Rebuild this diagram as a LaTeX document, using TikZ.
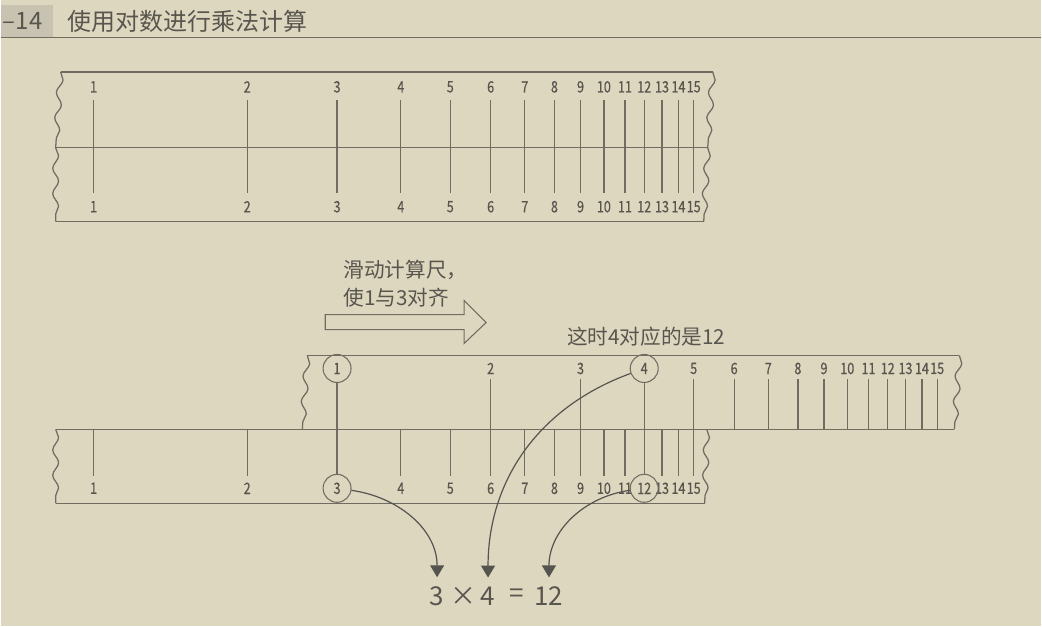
\documentclass[tikz,border=0pt]{standalone}
\usepackage{fontspec}
\setmainfont{Noto Sans CJK SC}
\newfontfamily\numfont[FakeStretch=0.8, FakeBold=0.6]{Noto Sans CJK SC}
\usetikzlibrary{arrows.meta,decorations.pathmorphing}
\definecolor{paper}{RGB}{222,215,192}
\definecolor{boxgray}{RGB}{200,194,176}
\definecolor{linegray}{RGB}{112,108,98}
\definecolor{textgray}{RGB}{88,85,78}
\definecolor{arrowgray}{RGB}{85,84,78}
\tikzset{
  rline/.style={draw=linegray, line width=0.95pt},
  wavy/.style={rline, decorate, decoration={snake, amplitude=2.2pt, segment length=19pt}},
  num/.style={text=textgray, font=\numfont\fontsize{11.8}{13}\selectfont, inner sep=1pt},
  ring/.style={num, circle, draw=linegray, line width=0.8pt, minimum size=21pt, inner sep=0pt},
  zh/.style={text=textgray, font=\fontsize{15.5}{21}\selectfont, inner sep=0pt},
  eqn/.style={text=textgray, font=\fontsize{19.5}{22}\selectfont, inner sep=0pt, outer sep=7pt},
  curvearrow/.style={draw=arrowgray, line width=0.9pt, -{Triangle[width=10.5pt,length=9pt]}}
}
\begin{document}
\begin{tikzpicture}[x=0.75pt, y=-0.75pt]
\fill[paper] (0,0) rectangle (1042,627);

% header
\fill[boxgray] (0,5) rectangle (52,37);
\node[text=textgray, font=\fontsize{18}{20}\selectfont, inner sep=0pt] (H) at (22,21) {–14};
\node[text=textgray, font=\fontsize{18}{20}\selectfont, inner sep=0pt, anchor=west] (T) at (67,21) {使用对数进行乘法计算};
\draw[linegray, line width=1.1pt] (0,37.5) -- (1042,37.5);

% rule before sliding
\draw[rline] (60,72) -- (713,72);
\draw[rline] (55,148) -- (708,148);
\draw[rline] (55,222) -- (704,222);
\draw[wavy] (60,72) -- (55,148);
\draw[wavy] (55,148) -- (55,222);
\draw[wavy] (713,72) -- (708,148);
\draw[wavy] (708,148) -- (704,222);
\foreach \n in {1,...,15}{
  \pgfmathsetmacro\xt{93+511*log10(\n)}
  \node[num] (u\n) at (\xt,87) {\n};
  \node[num] (d\n) at (\xt,207) {\n};
  \draw[rline] (\xt,100) -- (\xt,193);
}

% slide hint
\node[zh, anchor=west, align=left] (S) at (343,284) {滑动计算尺，\\使1与3对齐};
\draw[rline, line width=0.8pt] (325,315) -- (464,315) -- (464,301) -- (486,323) -- (464,344) -- (464,330) -- (325,330) -- cycle;
\node[zh, anchor=west] (N) at (567,337) {这时4对应的是12};

% rule after sliding
\draw[rline] (307,356) -- (960,356);
\draw[rline] (55,430) -- (955,430);
\draw[rline] (55,504) -- (705,504);
\draw[wavy] (307,356) -- (302,430);
\draw[wavy] (960,356) -- (955,430);
\draw[wavy] (55,430) -- (55,504);
\draw[wavy] (707,430) -- (705,504);
\foreach \n in {2,3,5,6,7,8,9,10,11,12,13,14,15}{
  \pgfmathsetmacro\xs{93+511*log10(3*\n)}
  \node[num] (s\n) at (\xs,369) {\n};
  \draw[rline] (\xs,380) -- (\xs,430);
}
\foreach \n in {1,2,4,5,6,7,8,9,10,11,13,14,15}{
  \pgfmathsetmacro\xk{93+511*log10(\n)}
  \node[num] (k\n) at (\xk,489) {\n};
  \draw[rline] (\xk,430) -- (\xk,477);
}
\node[ring] (s1) at (336.8,369) {1};
\node[ring] (s4) at (644.4,369) {4};
\node[ring] (k3) at (336.8,489) {3};
\node[ring] (k12) at (644.4,489) {12};
\draw[rline] (s1) -- (k3);
\draw[rline] (s4) -- (k12);

% result
\node[eqn] (e3) at (437,597) {3};
\node[eqn] (X) at (463,597) {×};
\node[eqn] (e4) at (488,597) {4};
\node[eqn] (Q) at (517,597) {=};
\node[eqn] (e12) at (549,597) {12};
\draw[curvearrow] (k3) to[out=-8, in=90] (e3);
\draw[curvearrow] (s4) to[out=200, in=90] (e4);
\draw[curvearrow] (k12) to[out=188, in=90] (e12);
\end{tikzpicture}
\end{document}
